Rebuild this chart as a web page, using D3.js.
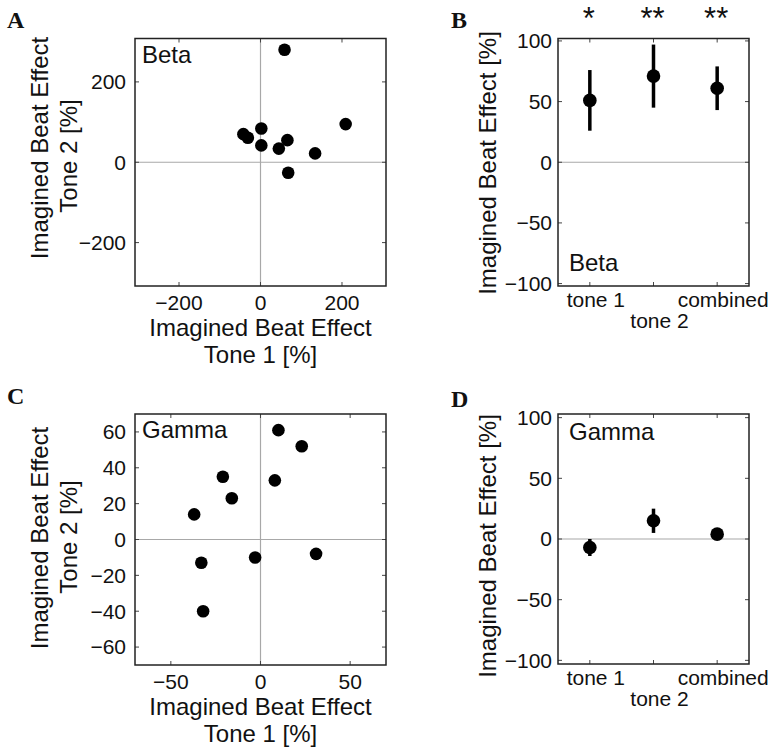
<!doctype html>
<html lang="en">
 <head>
   <meta charset="UTF-8">
   <title>Imagined beat effect</title>
   <script src="https://d3js.org/d3.v7.min.js"></script>
   <style>
     body { margin: 0; background: #fff; }
     text { font-family: "Liberation Sans", Arial, sans-serif; fill: #111; }
   </style>
 </head>
 <body>
   <div id="myDiv"></div>

 <script type="text/javascript">

   // scatter data: imagined beat effect per subject, tone 1 vs tone 2 [%]
   const betaTone1  = [59, 209, -42, -31, 2, 2, 45, 66, 134, 68];
   const betaTone2  = [280, 95, 70, 61, 84, 42, 34, 55, 22, -26];
   const gammaTone1 = [10, 23, 8, -21, -16, -37, -33, -3, 31, -32];
   const gammaTone2 = [61, 52, 33, 35, 23, 14, -13, -10, -8, -40];

   // group means with error bars
   const conditions = ["tone 1", "tone 2", "combined"];
   const betaMean  = [51, 71, 61];
   const betaErr   = [25, 26, 18];
   const gammaMean = [-7, 15, 4];
   const gammaErr  = [7, 10, 4];
   const betaStars = ["*", "**", "**"];

   // tick values
   const betaTicks  = [-200, 0, 200];
   const gammaXTicks = [-50, 0, 50];
   const gammaYTicks = [-60, -40, -20, 0, 20, 40, 60];
   const meanTicks  = [-100, -50, 0, 50, 100];

   const fmt = d => d < 0 ? "\u2212" + Math.abs(d) : String(d);

   let svg = d3.select("#myDiv").append("svg")
      .attr("width", 778)
      .attr("height", 751);

   // draw the box, inner ticks on all four sides and the zero line
   function frame(g, x, y, xt, yt, zeroX) {
     let [x0, x1] = x.range(), [y1, y0] = y.range();
     g.append("line").attr("x1", x0).attr("x2", x1)
        .attr("y1", y(0)).attr("y2", y(0))
        .attr("stroke", "#a8a8a8").attr("stroke-width", 1.2);
     if (zeroX) {
       g.append("line").attr("x1", x(0)).attr("x2", x(0))
          .attr("y1", y0).attr("y2", y1)
          .attr("stroke", "#a8a8a8").attr("stroke-width", 1.2);
     }
     let tl = 4;
     xt.forEach(function(v) {
       g.append("line").attr("x1", x(v)).attr("x2", x(v)).attr("y1", y1).attr("y2", y1 - tl)
          .attr("stroke", "#444");
       g.append("line").attr("x1", x(v)).attr("x2", x(v)).attr("y1", y0).attr("y2", y0 + tl)
          .attr("stroke", "#444");
     });
     yt.forEach(function(v) {
       g.append("line").attr("y1", y(v)).attr("y2", y(v)).attr("x1", x0).attr("x2", x0 + tl)
          .attr("stroke", "#444");
       g.append("line").attr("y1", y(v)).attr("y2", y(v)).attr("x1", x1).attr("x2", x1 - tl)
          .attr("stroke", "#444");
     });
     g.append("rect").attr("x", x0).attr("y", y0)
        .attr("width", x1 - x0).attr("height", y1 - y0)
        .attr("fill", "none").attr("stroke", "#222").attr("stroke-width", 1.5);
   }

   function yTickLabels(g, x, y, yt, gap) {
     g.selectAll(".ytl").data(yt).enter().append("text")
        .attr("x", x.range()[0] - gap)
        .attr("y", d => y(d))
        .attr("dy", "0.35em")
        .attr("text-anchor", "end")
        .attr("font-size", "21px")
        .text(fmt);
   }

   function panelLetter(txt, x, y) {
     svg.append("text").attr("x", x).attr("y", y)
        .attr("font-weight", "bold").attr("font-size", "24px")
        .style("font-family", "'Liberation Serif', 'Times New Roman', serif")
        .text(txt);
   }

   function scatterPanel(xs, ys, dom, xt, yt, box, name, ylab) {
     let g = svg.append("g");
     let x = d3.scaleLinear().domain([-dom, dom]).range([box.l, box.r]);
     let y = d3.scaleLinear().domain([-dom, dom]).range([box.b, box.t]);
     frame(g, x, y, xt, yt, true);

     g.selectAll("circle").data(xs).enter().append("circle")
        .attr("cx", d => x(d))
        .attr("cy", (d, i) => y(ys[i]))
        .attr("r", 6.3)
        .attr("fill", "#000");

     yTickLabels(g, x, y, yt, 9);
     g.selectAll(".xtl").data(xt).enter().append("text")
        .attr("x", d => x(d))
        .attr("y", box.b + 23.5)
        .attr("text-anchor", "middle")
        .attr("font-size", "21px")
        .text(fmt);

     g.append("text").attr("x", box.l + 7).attr("y", box.t + 24)
        .attr("font-size", "24px").text(name);

     let cx = (box.l + box.r) / 2;
     g.append("text").attr("x", cx).attr("y", box.b + 50)
        .attr("text-anchor", "middle").attr("font-size", "24px")
        .text("Imagined Beat Effect");
     g.append("text").attr("x", cx).attr("y", box.b + 77)
        .attr("text-anchor", "middle").attr("font-size", "24px")
        .text("Tone 1 [%]");

     g.append("text").attr("transform", "translate(48," + ylab[0] + ") rotate(-90)")
        .attr("text-anchor", "middle").attr("font-size", "24px")
        .text("Imagined Beat Effect");
     g.append("text").attr("transform", "translate(77," + ylab[1] + ") rotate(-90)")
        .attr("text-anchor", "middle").attr("font-size", "24px")
        .text("Tone 2 [%]");
   }

   function meanPanel(means, errs, dom, box, name, nameAtTop, ylabC, stars) {
     let g = svg.append("g");
     let x = d3.scalePoint().domain(conditions).range([box.l, box.r]).padding(0.5);
     let xn = d3.scaleLinear().domain([-0.5, 2.5]).range([box.l, box.r]);
     let y = d3.scaleLinear().domain([-dom, dom]).range([box.b, box.t]);
     frame(g, xn, y, [0, 1, 2], meanTicks, false);

     g.selectAll(".err").data(means).enter().append("line")
        .attr("x1", (d, i) => x(conditions[i]))
        .attr("x2", (d, i) => x(conditions[i]))
        .attr("y1", (d, i) => y(d - errs[i]))
        .attr("y2", (d, i) => y(d + errs[i]))
        .attr("stroke", "#000").attr("stroke-width", 3.5);
     g.selectAll("circle").data(means).enter().append("circle")
        .attr("cx", (d, i) => x(conditions[i]))
        .attr("cy", d => y(d))
        .attr("r", 6.8)
        .attr("fill", "#000");

     yTickLabels(g, xn, y, meanTicks, 6);
     g.selectAll(".xtl").data(conditions).enter().append("text")
        .attr("x", d => x(d) + 6)
        .attr("y", (d, i) => box.b + (i == 1 ? 42 : 20.5))
        .attr("text-anchor", "middle")
        .attr("font-size", "21px")
        .text(d => d);

     g.append("text").attr("x", box.l + 11)
        .attr("y", nameAtTop ? box.t + 26 : box.b - 15)
        .attr("font-size", "24px").text(name);

     g.append("text").attr("transform", "translate(496," + ylabC + ") rotate(-90)")
        .attr("text-anchor", "middle").attr("font-size", "24px")
        .text("Imagined Beat Effect [%]");

     if (stars) {
       g.selectAll(".star").data(stars).enter().append("text")
          .attr("x", (d, i) => x(conditions[i]) - 1)
          .attr("y", 29)
          .attr("text-anchor", "middle")
          .attr("font-size", "31px")
          .text(d => d);
     }
   }

   scatterPanel(betaTone1, betaTone2, 308, betaTicks, betaTicks,
      {l: 135, r: 386, t: 38.5, b: 286}, "Beta", [148, 156]);
   scatterPanel(gammaTone1, gammaTone2, 70, gammaXTicks, gammaYTicks,
      {l: 135, r: 386, t: 414, b: 665}, "Gamma", [538, 537]);
   meanPanel(betaMean, betaErr, 102, {l: 558, r: 749, t: 38.5, b: 286},
      "Beta", false, 163, betaStars);
   meanPanel(gammaMean, gammaErr, 103, {l: 558, r: 749, t: 414, b: 664},
      "Gamma", true, 546, null);

   panelLetter("A", 7, 28);
   panelLetter("B", 451, 28);
   panelLetter("C", 7, 404);
   panelLetter("D", 451, 407);
 </script>
</body>
</html>
